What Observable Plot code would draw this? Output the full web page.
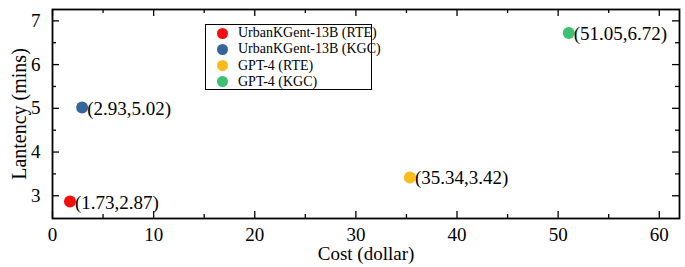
<!DOCTYPE html>
<html><head><meta charset="utf-8">
<script src="https://cdn.jsdelivr.net/npm/d3@7"></script>
<script src="https://cdn.jsdelivr.net/npm/@observablehq/plot@0.6"></script>
<style>
body{margin:0;background:#fff;font-family:"Liberation Serif",serif;}
#wrap{position:relative;width:685px;height:267px;}
#legend{position:absolute;left:205px;top:24px;width:167px;height:66px;border:1.2px solid #000;background:#fff;font-size:14px;box-sizing:border-box;}
#legend .dot{position:absolute;left:11px;width:11px;height:11px;border-radius:50%;}
#legend .lab{position:absolute;left:32px;line-height:16px;white-space:nowrap;}
</style></head>
<body><div id="wrap"><div id="legend"></div></div>
<script>
const models = ["UrbanKGent-13B (RTE)","UrbanKGent-13B (KGC)","GPT-4 (RTE)","GPT-4 (KGC)"];
const cost = [1.73, 2.93, 35.34, 51.05];
const latency = [2.87, 5.02, 3.42, 6.72];
const colors = ["#f50c0c","#336699","#fbbc1b","#3cc074"];
const xMajor = [0,10,20,30,40,50,60];
const xMinor = [5,15,25,35,45,55];
const yMajor = [3,4,5,6,7];
const yMinor = [3.5,4.5,5.5,6.5];

const data = models.map((m,i)=>({model:m,cost:cost[i],latency:latency[i],label:`(${cost[i]},${latency[i]})`}));
const W=685,H=267,mt=9,mb=49,ml=52,mr=6;
const ih=H-mt-mb, iw=W-ml-mr;
const font='"Liberation Serif",serif';
const MJ=7, MN=4;

const chart = Plot.plot({
  width:W,height:H,marginTop:mt,marginBottom:mb,marginLeft:ml,marginRight:mr,
  style:{fontFamily:font,background:"#fff",color:"#000"},
  x:{domain:[0,62],label:null},
  y:{domain:[2.48,7.26],label:null},
  color:{domain:models,range:colors},
  marks:[
    Plot.axisX(xMajor,{tickSize:0,tickPadding:9,fontSize:19,label:null,fontFamily:font}),
    Plot.axisY(yMajor,{tickSize:0,tickPadding:12,fontSize:19,label:null,fontFamily:font}),
    Plot.ruleX(xMajor,{x:d=>d,insetTop:ih-MJ,stroke:"#000",strokeWidth:1.3}),
    Plot.ruleX(xMajor,{x:d=>d,insetBottom:ih-MJ,stroke:"#000",strokeWidth:1.3}),
    Plot.ruleX(xMinor,{x:d=>d,insetTop:ih-MN,stroke:"#000",strokeWidth:1.3}),
    Plot.ruleX(xMinor,{x:d=>d,insetBottom:ih-MN,stroke:"#000",strokeWidth:1.3}),
    Plot.ruleY(yMajor,{y:d=>d,insetRight:iw-MJ,stroke:"#000",strokeWidth:1.3}),
    Plot.ruleY(yMajor,{y:d=>d,insetLeft:iw-MJ,stroke:"#000",strokeWidth:1.3}),
    Plot.ruleY(yMinor,{y:d=>d,insetRight:iw-MN,stroke:"#000",strokeWidth:1.3}),
    Plot.ruleY(yMinor,{y:d=>d,insetLeft:iw-MN,stroke:"#000",strokeWidth:1.3}),
    Plot.frame({stroke:"#000",strokeWidth:1.8}),
    Plot.dot(data,{x:"cost",y:"latency",fill:"model",r:6,stroke:null}),
    Plot.text(data,{x:"cost",y:"latency",text:"label",textAnchor:"start",dx:5,dy:1,fontSize:19,fill:"#000",fontFamily:font}),
    Plot.text(["Cost (dollar)"],{frameAnchor:"bottom",textAnchor:"middle",dy:41,fontSize:19,fill:"#000",fontFamily:font}),
    Plot.text(["Lantency (mins)"],{frameAnchor:"left",textAnchor:"middle",dx:-33,rotate:-90,fontSize:20,fill:"#000",fontFamily:font})
  ]
});
const wrap=document.getElementById("wrap");
wrap.insertBefore(chart, wrap.firstChild);
const lg=document.getElementById("legend");
models.forEach((m,i)=>{
  const c=8+i*16.3;
  const d=document.createElement("span");d.className="dot";
  d.style.background=colors[i];d.style.top=(c-5.5)+"px";
  const t=document.createElement("span");t.className="lab";
  t.textContent=m;t.style.top=(c-8)+"px";
  lg.appendChild(d);lg.appendChild(t);
});
</script></body></html>
